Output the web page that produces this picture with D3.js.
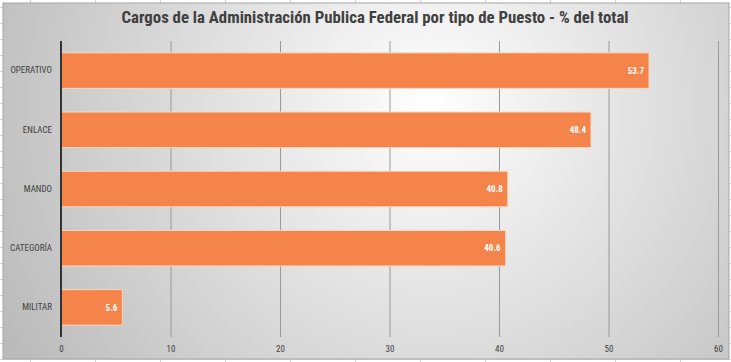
<!DOCTYPE html>
<html lang="es">
<head>
    <meta charset="UTF-8">
    <title>Cargos de la Administración Publica Federal</title>
    <script src="https://d3js.org/d3.v7.min.js"></script>
    <style>
        body { margin: 0; background: #fff; }
        svg { display: block; }
    </style>
</head>
<body>
<svg id="main" width="731" height="362"></svg>
<script>
    // data
    const categories = ['OPERATIVO', 'ENLACE', 'MANDO', 'CATEGORÍA', 'MILITAR'];
    const values = [53.7, 48.4, 40.8, 40.6, 5.6];
    const xTicks = [0, 10, 20, 30, 40, 50, 60];
    const title = 'Cargos de la Administración Publica Federal por tipo de Puesto - % del total';

    const svg = d3.select('svg#main');
    const W = 731, H = 362;
    const frame = {x: 3, y: 3, w: 726, h: 356};
    const plot = {left: 61, right: 718, top: 41, bottom: 337};
    const font = "'Liberation Sans Narrow', 'Roboto Condensed', 'Open Sans', sans-serif";

    // spreadsheet cells behind the chart
    const cells = svg.append('g').attr('stroke', '#d4d4d4').attr('stroke-width', 1);
    for (let x = 30.5; x < W; x += 65) {
        cells.append('line').attr('x1', x).attr('x2', x).attr('y1', 0).attr('y2', H);
    }
    for (let y = 7.5; y < H; y += 16) {
        cells.append('line').attr('x1', 0).attr('x2', W).attr('y1', y).attr('y2', y);
    }

    // radial gradient background
    const defs = svg.append('defs');
    const grad = defs.append('radialGradient')
        .attr('id', 'bg')
        .attr('gradientUnits', 'userSpaceOnUse')
        .attr('cx', 430).attr('cy', 105).attr('r', 480);
    grad.append('stop').attr('offset', '0%').attr('stop-color', '#ffffff');
    grad.append('stop').attr('offset', '100%').attr('stop-color', '#bbbbbb');

    svg.append('rect')
        .attr('x', frame.x).attr('y', frame.y)
        .attr('width', frame.w).attr('height', frame.h)
        .attr('fill', 'url(#bg)')
        .attr('stroke', '#a6a6a6');

    // title
    svg.append('text')
        .attr('x', 375).attr('y', 23)
        .attr('text-anchor', 'middle')
        .style('font-family', font)
        .style('font-weight', 'bold')
        .style('font-size', '16.8px')
        .style('fill', '#404040')
        .text(title);

    // scales
    const xScale = d3.scaleLinear().domain([0, 60]).range([plot.left, plot.right]);
    const yScale = d3.scaleBand()
        .domain(categories)
        .range([plot.top, plot.bottom])
        .paddingInner(0.4)
        .paddingOuter(0.2);

    // gridlines
    svg.append('g')
        .selectAll('line')
        .data(xTicks.filter(d => d > 0))
        .join('line')
        .attr('x1', d => xScale(d) + 0.5).attr('x2', d => xScale(d) + 0.5)
        .attr('y1', plot.top).attr('y2', plot.bottom)
        .attr('stroke', '#999999')
        .attr('stroke-width', 1);

    // x axis labels
    const xAxis = svg.append('g')
        .attr('transform', 'translate(0,' + plot.bottom + ')')
        .call(d3.axisBottom(xScale).tickValues(xTicks).tickSize(0).tickPadding(9));
    xAxis.select('.domain').remove();
    xAxis.selectAll('text')
        .style('font-family', font)
        .style('font-size', '9px')
        .style('fill', '#404040');

    // bars
    svg.append('g')
        .selectAll('rect')
        .data(values)
        .join('rect')
        .attr('x', xScale(0))
        .attr('y', (d, i) => yScale(categories[i]))
        .attr('width', d => xScale(d) - xScale(0))
        .attr('height', yScale.bandwidth())
        .attr('fill', '#f4844a')
        .attr('stroke', '#fbd7c2')
        .attr('stroke-width', 1);

    // value labels
    svg.append('g')
        .selectAll('text')
        .data(values)
        .join('text')
        .attr('x', d => xScale(d) - 5)
        .attr('y', (d, i) => yScale(categories[i]) + yScale.bandwidth() / 2)
        .attr('dy', '0.35em')
        .attr('text-anchor', 'end')
        .style('font-family', font)
        .style('font-weight', 'bold')
        .style('font-size', '9px')
        .style('fill', '#ffffff')
        .text(d => d.toFixed(1));

    // y axis
    const yAxis = svg.append('g')
        .attr('transform', 'translate(' + plot.left + ',0)')
        .call(d3.axisLeft(yScale).tickSize(0).tickPadding(9));
    yAxis.select('.domain').remove();
    yAxis.selectAll('text')
        .style('font-family', font)
        .style('font-size', '9px')
        .style('fill', '#404040');

    svg.append('line')
        .attr('x1', plot.left).attr('x2', plot.left)
        .attr('y1', plot.top).attr('y2', plot.bottom)
        .attr('stroke', '#333333')
        .attr('stroke-width', 2);
</script>
</body>
</html>
